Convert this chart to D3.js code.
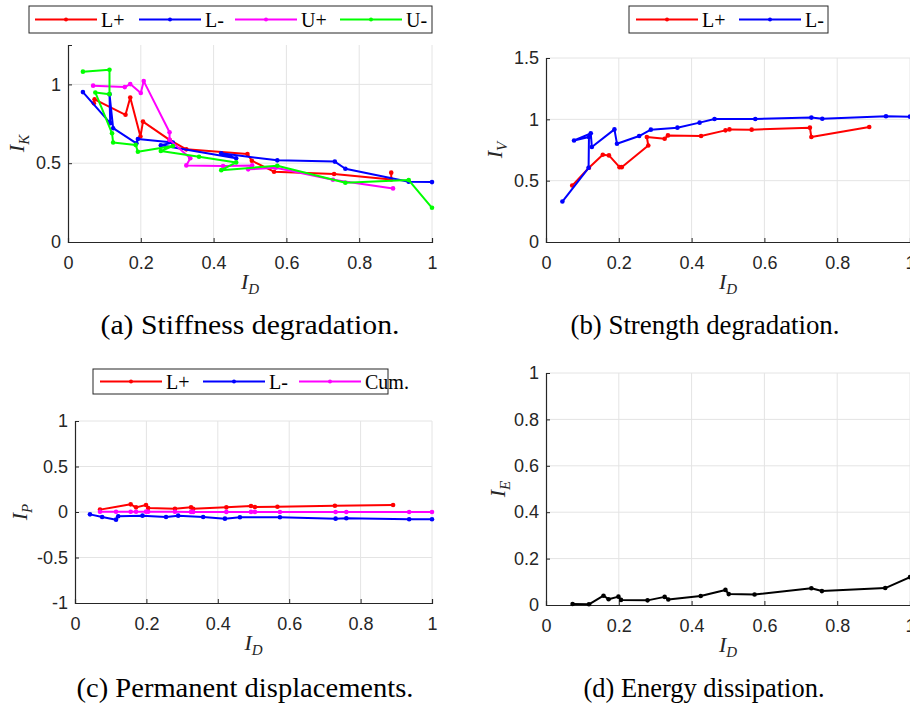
<!DOCTYPE html>
<html>
<head>
<meta charset="utf-8">
<script src="https://cdn.jsdelivr.net/npm/d3@7"></script>
<style>
  body { margin: 0; background: #fff; overflow: hidden; }
  .tick text { font-family: "Liberation Sans", Arial, sans-serif; font-size: 18px; fill: #262626; }
  .cap { font-family: "Liberation Serif", serif; font-size: 27px; fill: #000; }
  .lab { font-family: "Liberation Serif", serif; font-style: italic; font-size: 22px; fill: #262626; }
  .leg { font-family: "Liberation Serif", serif; font-size: 20px; fill: #000; }
</style>
</head>
<body>
<script>
// ---- data ----
// (a) stiffness degradation, I_K vs I_D
var aLpX = [0.071, 0.073, 0.158, 0.171, 0.199, 0.206, 0.279, 0.325, 0.493, 0.505, 0.566, 0.731, 0.888, 0.888];
var aLpY = [0.880, 0.905, 0.807, 0.917, 0.669, 0.764, 0.648, 0.588, 0.558, 0.516, 0.446, 0.431, 0.397, 0.440];
var aLmX = [0.041, 0.116, 0.114, 0.124, 0.188, 0.192, 0.288, 0.255, 0.462, 0.421, 0.575, 0.733, 0.762, 0.936, 1.000];
var aLmY = [0.951, 0.754, 0.938, 0.722, 0.626, 0.654, 0.631, 0.614, 0.531, 0.563, 0.518, 0.510, 0.465, 0.382, 0.380];
var aUpX = [0.069, 0.156, 0.171, 0.200, 0.208, 0.279, 0.279, 0.336, 0.325, 0.426, 0.506, 0.495, 0.571, 0.728, 0.893];
var aUpY = [0.992, 0.983, 1.002, 0.945, 1.021, 0.696, 0.648, 0.531, 0.486, 0.482, 0.486, 0.461, 0.471, 0.395, 0.340];
var aUmX = [0.041, 0.114, 0.114, 0.075, 0.121, 0.124, 0.186, 0.192, 0.288, 0.255, 0.360, 0.462, 0.421, 0.575, 0.762, 0.936, 1.000];
var aUmY = [1.081, 1.093, 0.938, 0.949, 0.690, 0.631, 0.616, 0.573, 0.609, 0.577, 0.541, 0.505, 0.456, 0.484, 0.376, 0.393, 0.217];

// (b) strength degradation, I_V vs I_D
var bLpX = [0.072, 0.118, 0.156, 0.173, 0.202, 0.208, 0.281, 0.277, 0.326, 0.335, 0.426, 0.493, 0.504, 0.565, 0.725, 0.729, 0.888];
var bLpY = [0.460, 0.605, 0.711, 0.706, 0.610, 0.610, 0.787, 0.856, 0.842, 0.869, 0.864, 0.910, 0.918, 0.916, 0.932, 0.856, 0.937];
var bLmX = [0.045, 0.117, 0.118, 0.077, 0.123, 0.126, 0.188, 0.195, 0.256, 0.288, 0.361, 0.422, 0.463, 0.575, 0.729, 0.759, 0.934, 1.000];
var bLmY = [0.330, 0.605, 0.856, 0.828, 0.886, 0.774, 0.918, 0.801, 0.864, 0.916, 0.932, 0.973, 1.003, 1.003, 1.014, 1.005, 1.025, 1.022];

// (c) permanent displacements, I_P vs I_D
var cLpX = [0.070, 0.156, 0.171, 0.199, 0.205, 0.280, 0.325, 0.331, 0.424, 0.493, 0.504, 0.567, 0.728, 0.891];
var cLpY = [0.026, 0.084, 0.051, 0.077, 0.044, 0.036, 0.051, 0.036, 0.051, 0.066, 0.055, 0.058, 0.069, 0.077];
var cLmX = [0.042, 0.076, 0.115, 0.121, 0.189, 0.255, 0.289, 0.359, 0.420, 0.462, 0.574, 0.730, 0.760, 0.936, 1.000];
var cLmY = [-0.026, -0.055, -0.084, -0.047, -0.040, -0.055, -0.040, -0.055, -0.073, -0.058, -0.058, -0.073, -0.069, -0.080, -0.080];
var cCuX = [0.070, 0.115, 0.156, 0.171, 0.199, 0.205, 0.280, 0.325, 0.331, 0.424, 0.493, 0.504, 0.574, 0.730, 0.760, 0.936, 1.000];
var cCuY = [0.003, 0.002, 0.003, 0.002, 0.004, 0.002, 0.002, 0.001, 0.001, 0.001, 0.001, 0.001, 0.000, 0.000, 0.000, 0.000, 0.000];

// (d) energy dissipation, I_E vs I_D
var dX = [0.073, 0.118, 0.158, 0.172, 0.199, 0.206, 0.279, 0.326, 0.336, 0.425, 0.493, 0.502, 0.573, 0.729, 0.758, 0.932, 1.000];
var dY = [0.004, 0.003, 0.040, 0.025, 0.036, 0.022, 0.020, 0.035, 0.024, 0.039, 0.065, 0.047, 0.045, 0.072, 0.060, 0.073, 0.120];

var xTicks = [0, 0.2, 0.4, 0.6, 0.8, 1];

function zip(xs, ys) {
  return xs.map(function(x, i) { return [x, ys[i]]; });
}

var svg = d3.select("body").append("svg")
  .attr("width", 910).attr("height", 709);

function panel(p) {
  var x = d3.scaleLinear().domain([0, 1]).range([p.left, p.left + p.w]);
  var y = d3.scaleLinear().domain(p.yDomain).range([p.top + p.h, p.top]);
  var g = svg.append("g");

  // grid
  g.selectAll(".vg").data(xTicks.slice(1)).enter().append("line")
    .attr("x1", function(d) { return x(d); }).attr("x2", function(d) { return x(d); })
    .attr("y1", p.top).attr("y2", p.top + p.h)
    .attr("stroke", "#e4e4e4").attr("stroke-width", 1);
  g.selectAll(".hg").data(p.yTicks.filter(function(d) { return d != p.yDomain[0]; })).enter().append("line")
    .attr("y1", function(d) { return y(d); }).attr("y2", function(d) { return y(d); })
    .attr("x1", p.left).attr("x2", p.left + p.w)
    .attr("stroke", "#e4e4e4").attr("stroke-width", 1);

  // axes
  var xa = g.append("g").attr("transform", "translate(0," + (p.top + p.h) + ")")
    .call(d3.axisBottom(x).tickValues(xTicks).tickSize(-4).tickPadding(14).tickFormat(function(d) { return String(d); }));
  var ya = g.append("g").attr("transform", "translate(" + p.left + ",0)")
    .call(d3.axisLeft(y).tickValues(p.yTicks).tickSize(-4).tickPadding(7).tickFormat(function(d) { return String(d); }));
  [xa, ya].forEach(function(a) {
    a.select(".domain").attr("stroke", "#262626").attr("stroke-width", 1.2);
    a.selectAll(".tick line").attr("stroke", "#262626");
  });

  // lines
  var line = d3.line().x(function(d) { return x(d[0]); }).y(function(d) { return y(d[1]); });
  p.series.forEach(function(s) {
    var pts = zip(s.xs, s.ys);
    g.append("path").attr("d", line(pts)).attr("fill", "none")
      .attr("stroke", s.color).attr("stroke-width", 2).attr("stroke-linejoin", "round");
    g.selectAll(null).data(pts).enter().append("circle")
      .attr("cx", function(d) { return x(d[0]); }).attr("cy", function(d) { return y(d[1]); })
      .attr("r", 2.3).attr("fill", s.color);
  });

  // labels
  var xl = g.append("text").attr("class", "lab").attr("text-anchor", "middle")
    .attr("x", p.left + p.w / 2 - (p.xLabDx || 0)).attr("y", p.top + p.h + 47);
  xl.append("tspan").text("I");
  xl.append("tspan").attr("dy", 5).attr("font-size", 15).text("D");

  var yl = g.append("text").attr("class", "lab").attr("text-anchor", "middle")
    .attr("transform", "translate(" + p.yLabX + "," + (p.top + p.h / 2) + ") rotate(-90)");
  yl.append("tspan").text("I");
  yl.append("tspan").attr("dy", 5).attr("font-size", 15).text(p.ySub);

  g.append("text").attr("class", "cap").attr("text-anchor", "middle")
    .attr("x", p.capX).attr("y", p.capY)
    .attr("textLength", p.capW).attr("lengthAdjust", "spacingAndGlyphs")
    .text(p.caption);

  // legend
  if (p.legend) {
    var L = p.legend;
    g.append("rect").attr("x", L.x).attr("y", L.y).attr("width", L.w).attr("height", L.h)
      .attr("fill", "#fff").attr("stroke", "#262626").attr("stroke-width", 1);
    p.series.forEach(function(s, i) {
      var lx = L.items[i];
      var cy = L.y + L.h / 2;
      g.append("line").attr("x1", lx).attr("x2", lx + 62).attr("y1", cy).attr("y2", cy)
        .attr("stroke", s.color).attr("stroke-width", 2);
      g.append("circle").attr("cx", lx + 31).attr("cy", cy).attr("r", 2).attr("fill", s.color);
      g.append("text").attr("class", "leg").attr("x", lx + 66).attr("y", cy + 7).text(s.name);
    });
  }
}

panel({
  left: 68, top: 45, w: 364, h: 197, yDomain: [0, 1.25], yTicks: [0, 0.5, 1],
  ySub: "K", yLabX: 24, capX: 250, capY: 334, capW: 299, caption: "(a) Stiffness degradation.",
  series: [
    { name: "L+", color: "#ff0000", xs: aLpX, ys: aLpY },
    { name: "L-", color: "#0000ff", xs: aLmX, ys: aLmY },
    { name: "U+", color: "#ff00ff", xs: aUpX, ys: aUpY },
    { name: "U-", color: "#00ff00", xs: aUmX, ys: aUmY }
  ],
  legend: { x: 29, y: 6, w: 403, h: 27, items: [35, 139, 235, 340] }
});

panel({
  left: 546, top: 58, w: 364, h: 184, yDomain: [0, 1.5], yTicks: [0, 0.5, 1, 1.5],
  ySub: "V", yLabX: 502, capX: 705, capY: 334, capW: 269, caption: "(b) Strength degradation.",
  series: [
    { name: "L+", color: "#ff0000", xs: bLpX, ys: bLpY },
    { name: "L-", color: "#0000ff", xs: bLmX, ys: bLmY }
  ],
  legend: { x: 629, y: 6, w: 199, h: 27, items: [636, 739] }
});

panel({
  left: 75, top: 421, w: 357, h: 182, yDomain: [-1, 1], yTicks: [-1, -0.5, 0, 0.5, 1],
  ySub: "P", yLabX: 27, capX: 245, capY: 697, capW: 337, caption: "(c) Permanent displacements.",
  series: [
    { name: "L+", color: "#ff0000", xs: cLpX, ys: cLpY },
    { name: "L-", color: "#0000ff", xs: cLmX, ys: cLmY },
    { name: "Cum.", color: "#ff00ff", xs: cCuX, ys: cCuY }
  ],
  legend: { x: 93, y: 369, w: 295, h: 25, items: [100, 203, 299] }
});

panel({
  left: 546, top: 373, w: 364, h: 232, yDomain: [0, 1], yTicks: [0, 0.2, 0.4, 0.6, 0.8, 1],
  ySub: "E", yLabX: 505, capX: 704, capY: 697, capW: 241, caption: "(d) Energy dissipation.",
  series: [
    { name: "E", color: "#000000", xs: dX, ys: dY }
  ]
});
</script>
</body>
</html>
